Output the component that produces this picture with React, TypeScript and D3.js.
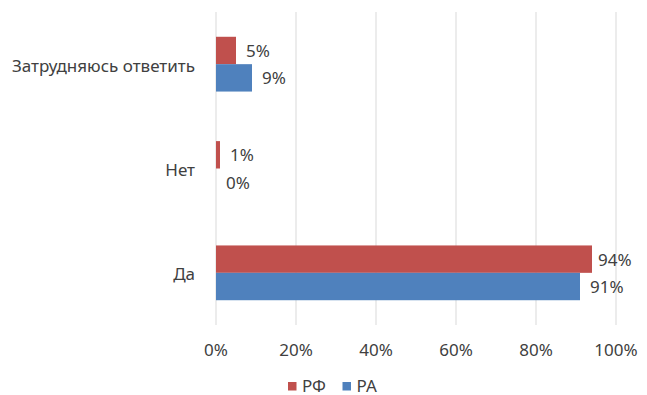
import React from "react";
import * as d3 from "d3";

const categories = ["Затрудняюсь ответить", "Нет", "Да"];
const seriesNames = ["РФ", "РА"];
const valuesRF = [5, 1, 94];
const valuesRA = [9, 0, 91];
const xTicks = [0, 20, 40, 60, 80, 100];
const colors = ["#C0504D", "#4F81BD"];

const W = 647;
const H = 395;
const FONT = "'Noto Sans', sans-serif";
const TEXT = "#404040";
const FS = 17;

export default function App() {
  const x = d3.scaleLinear().domain([0, 100]).range([216, 616]);
  const y = d3
    .scaleBand<string>()
    .domain(categories)
    .range([12, 325])
    .paddingInner(0.475)
    .paddingOuter(0.2375);
  const sub = d3.scaleBand<string>().domain(seriesNames).range([0, y.bandwidth()]);
  const series = [valuesRF, valuesRA];

  return (
    <svg
      width={W}
      height={H}
      style={{ position: "absolute", left: 0, top: 0, background: "#fff" }}
      fontFamily={FONT}
    >
      {xTicks.map((t) => (
        <g key={t}>
          <line x1={x(t)} x2={x(t)} y1={12} y2={325} stroke="#d9d9d9" strokeWidth={1} />
          <text x={x(t)} y={349} textAnchor="middle" dominantBaseline="central" fontSize={FS} fill={TEXT}>
            {t}%
          </text>
        </g>
      ))}
      {categories.map((c, i) => (
        <g key={c}>
          <text
            x={195}
            y={(y(c) ?? 0) + y.bandwidth() / 2 + 1}
            textAnchor="end"
            dominantBaseline="central"
            fontSize={FS}
            fill={TEXT}
          >
            {c}
          </text>
          {series.map((vals, s) => {
            const by = (y(c) ?? 0) + (sub(seriesNames[s]) ?? 0);
            const v = vals[i];
            return (
              <g key={s}>
                {v > 0 && (
                  <rect x={x(0)} y={by} width={x(v) - x(0)} height={sub.bandwidth()} fill={colors[s]} />
                )}
                <text
                  x={x(v) + (v > 90 && s === 0 ? 6 : 10)}
                  y={by + sub.bandwidth() / 2}
                  dominantBaseline="central"
                  fontSize={FS}
                  fill={TEXT}
                >
                  {v}%
                </text>
              </g>
            );
          })}
        </g>
      ))}
      {seriesNames.map((n, s) => {
        const lx = 288 + s * 54.5;
        return (
          <g key={n}>
            <rect x={lx} y={382} width={8.5} height={8.5} fill={colors[s]} />
            <text x={lx + 14} y={385} dominantBaseline="central" fontSize={FS} fill={TEXT}>
              {n}
            </text>
          </g>
        );
      })}
    </svg>
  );
}
